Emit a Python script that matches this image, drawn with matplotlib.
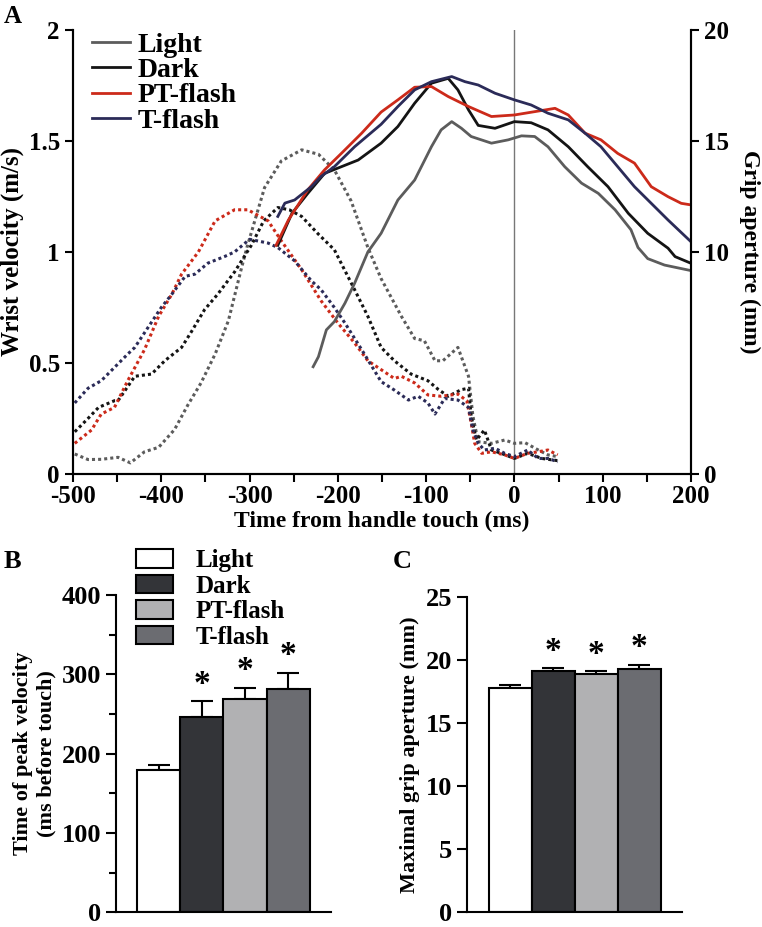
import matplotlib
matplotlib.use("Agg")
import matplotlib.pyplot as plt

plt.rcParams['font.family'] = ['Liberation Serif', 'DejaVu Serif']
plt.rcParams['font.weight'] = 'bold'
plt.rcParams['axes.labelweight'] = 'bold'
plt.rcParams['axes.unicode_minus'] = False

# ---- panel A data: wrist velocity (m/s, dotted) ----
light_v_t = [-498, -483, -468, -449, -435, -419, -403, -385, -370, -355, -339, -324, -309, -303, -283, -264,
             -241, -222, -204, -185, -166, -151, -128, -113, -102, -90, -81, -64, -52, -47, -41, -26, -11, 0,
             12, 27, 38, 49]
light_v = [0.09, 0.065, 0.066, 0.075, 0.05, 0.10, 0.12, 0.2, 0.31, 0.41, 0.54, 0.69, 0.93, 1.02, 1.29, 1.41,
           1.46, 1.44, 1.37, 1.23, 1.02, 0.88, 0.71, 0.61, 0.60, 0.51, 0.51, 0.57, 0.44, 0.26, 0.145, 0.138,
           0.153, 0.138, 0.141, 0.108, 0.086, 0.078]

dark_v_t = [-498, -483, -471, -453, -449, -430, -411, -396, -377, -366, -351, -336, -317, -298, -284, -268,
            -255, -241, -222, -204, -181, -166, -151, -136, -117, -98, -86, -75, -60, -52, -49, -43, -34, -26,
            -15, 0, 15, 31, 49]
dark_v = [0.19, 0.25, 0.30, 0.33, 0.33, 0.44, 0.45, 0.51, 0.57, 0.64, 0.74, 0.81, 0.91, 1.03, 1.14, 1.20,
          1.19, 1.16, 1.08, 1.01, 0.83, 0.71, 0.57, 0.51, 0.45, 0.42, 0.38, 0.35, 0.38, 0.386, 0.26, 0.153,
          0.198, 0.108, 0.093, 0.07, 0.093, 0.07, 0.06]

pt_v_t = [-498, -479, -468, -453, -438, -419, -403, -388, -377, -358, -339, -317, -302, -279, -264, -241,
          -219, -200, -181, -166, -151, -136, -128, -113, -98, -83, -64, -54, -49, -45, -37, -26, -11, 0, 15,
          27, 38, 49]
pt_v = [0.138, 0.198, 0.27, 0.30, 0.42, 0.56, 0.71, 0.81, 0.90, 1.0, 1.14, 1.19, 1.19, 1.14, 1.05, 0.92,
        0.78, 0.68, 0.59, 0.51, 0.47, 0.43, 0.44, 0.41, 0.356, 0.35, 0.36, 0.33, 0.23, 0.138, 0.093, 0.10,
        0.086, 0.07, 0.093, 0.10, 0.108, 0.086]

t_v_t = [-498, -483, -468, -453, -438, -430, -415, -400, -388, -373, -362, -347, -328, -317, -300, -279,
         -268, -249, -230, -219, -204, -192, -173, -151, -136, -120, -109, -98, -90, -79, -64, -52, -47, -41,
         -34, -22, -11, 0, 15, 27, 38, 49]
t_v = [0.32, 0.386, 0.42, 0.48, 0.54, 0.57, 0.66, 0.75, 0.81, 0.89, 0.90, 0.95, 0.98, 1.0, 1.057, 1.04,
       1.02, 0.96, 0.87, 0.83, 0.75, 0.68, 0.56, 0.416, 0.378, 0.333, 0.35, 0.32, 0.27, 0.34, 0.333, 0.30,
       0.198, 0.138, 0.108, 0.116, 0.093, 0.078, 0.108, 0.07, 0.07, 0.055]

# ---- panel A data: grip aperture (mm, solid) ----
light_g_t = [-228, -222, -213, -204, -192, -181, -166, -151, -132, -113, -94, -83, -71, -60, -49, -26, -7, 8,
             23, 38, 57, 76, 95, 114, 132, 140, 151, 170, 200]
light_g = [4.83, 5.28, 6.49, 6.86, 7.69, 8.59, 10.0, 10.84, 12.34, 13.24, 14.74, 15.5, 15.87, 15.57, 15.2,
           14.9, 15.05, 15.23, 15.2, 14.74, 13.84, 13.1, 12.64, 11.9, 11.0, 10.2, 9.7, 9.41, 9.16]

dark_g_t = [-268, -252, -234, -215, -196, -177, -151, -132, -113, -94, -75, -64, -52, -41, -22, 0, 19, 38, 61,
            83, 106, 129, 151, 174, 182, 200]
dark_g = [10.3, 11.74, 12.64, 13.54, 13.84, 14.14, 14.9, 15.65, 16.7, 17.6, 17.82, 17.3, 16.4, 15.7, 15.57,
          15.87, 15.82, 15.5, 14.74, 13.84, 12.94, 11.74, 10.84, 10.17, 9.79, 9.49]

pt_g_t = [-270, -256, -234, -215, -196, -173, -151, -132, -113, -94, -75, -52, -26, 0, 23, 46, 61, 80, 98,
          117, 136, 155, 174, 189, 200]
pt_g = [10.3, 11.44, 12.8, 13.7, 14.44, 15.35, 16.3, 16.85, 17.42, 17.45, 17.0, 16.55, 16.1, 16.17, 16.32,
        16.47, 16.17, 15.35, 15.05, 14.44, 14.0, 12.94, 12.49, 12.19, 12.12]

t_g_t = [-268, -260, -249, -230, -219, -204, -181, -151, -132, -113, -94, -71, -56, -41, -22, 0, 19, 38, 61,
         80, 98, 117, 136, 155, 174, 200]
t_g = [11.6, 12.2, 12.34, 12.94, 13.4, 13.84, 14.74, 15.75, 16.55, 17.3, 17.67, 17.9, 17.67, 17.52, 17.15,
       16.85, 16.62, 16.25, 15.95, 15.35, 14.74, 13.84, 12.94, 12.19, 11.44, 10.46]

# ---- panels B and C data ----
conditions = ['Light', 'Dark', 'PT-flash', 'T-flash']
peak_time = [180, 246, 269, 281]
peak_time_err = [6, 20, 14, 21]
max_grip = [17.75, 19.1, 18.9, 19.25]
max_grip_err = [0.3, 0.25, 0.2, 0.35]
significant = [False, True, True, True]

line_colors = ['#5c5c5c', '#141414', '#cc2a1a', '#2b2b58']
bar_colors = ['#ffffff', '#333438', '#b1b1b3', '#6b6c71']

fig = plt.figure(figsize=(7.62, 9.27), dpi=100)

# ================= panel A =================
ax = fig.add_axes([0.0958, 0.4887, 0.811, 0.479])
ax2 = ax.twinx()

vel = [(light_v_t, light_v), (dark_v_t, dark_v), (pt_v_t, pt_v), (t_v_t, t_v)]
grip = [(light_g_t, light_g), (dark_g_t, dark_g), (pt_g_t, pt_g), (t_g_t, t_g)]

ax.axvline(0, color='#777777', lw=1.0, zorder=0)
for (tt, vv), c in zip(vel, line_colors):
    ax.plot(tt, vv, color=c, lw=2.2, linestyle=(0, (1, 1)))
for (tt, gg), c, lab in zip(grip, line_colors, conditions):
    ax2.plot(tt, gg, color=c, lw=2.0, label=lab)

ax.set_xlim(-500, 200)
ax.set_ylim(0, 2)
ax2.set_ylim(0, 20)
ax.set_xticks(range(-500, 201, 100))
ax.set_xticks(range(-450, 200, 100), minor=True)
ax.set_yticks([0, 0.5, 1, 1.5, 2])
ax.set_yticklabels(['0', '0.5', '1', '1.5', '2'])
ax2.set_yticks([0, 10, 15, 20])
for a in (ax, ax2):
    a.spines['top'].set_visible(False)
    for s in a.spines.values():
        s.set_linewidth(1.5)
    a.tick_params(which='both', direction='out', length=6, width=1.5, labelsize=18)
ax.tick_params(axis='x', pad=2)
ax.set_xlabel('Time from handle touch (ms)', fontsize=17, labelpad=2)
ax.set_ylabel('Wrist velocity (m/s)', fontsize=18, labelpad=3)
ax2.set_ylabel('Grip aperture (mm)', fontsize=17, rotation=270, labelpad=22)

ax2.legend(loc='upper left', bbox_to_anchor=(0.03, 0.995), frameon=False, fontsize=20,
           handlelength=1.4, handletextpad=0.25, labelspacing=0.0, borderpad=0, borderaxespad=0)

fig.text(0.005, 0.995, 'A', fontsize=18, va='top', ha='left')


# ================= panels B, C =================
def bar_panel(rect, vals, errs, ymax, yticks, minor, ylabel, lab_fs):
    bx = fig.add_axes(rect)
    pos = [1, 2, 3, 4]
    bx.bar(pos, vals, width=1.0, color=bar_colors, edgecolor='black', linewidth=1.5, zorder=2)
    bx.errorbar(pos, vals, yerr=[[0] * 4, errs], fmt='none', ecolor='black', elinewidth=1.5,
                capsize=8, capthick=1.5, zorder=1)
    for p, v, e, s in zip(pos, vals, errs, significant):
        if s:
            bx.text(p, v + e + ymax * 0.005, '*', ha='center', va='bottom', fontsize=24)
    bx.set_xlim(0, 5)
    bx.set_ylim(0, ymax)
    bx.set_yticks(yticks)
    if minor:
        bx.set_yticks(minor, minor=True)
    bx.set_xticks([])
    bx.spines['top'].set_visible(False)
    bx.spines['right'].set_visible(False)
    for s in ('left', 'bottom'):
        bx.spines[s].set_linewidth(1.5)
    bx.tick_params(axis='y', which='major', direction='out', length=7, width=1.5, labelsize=19)
    bx.tick_params(axis='y', which='minor', direction='out', length=5, width=1.5)
    bx.set_ylabel(ylabel, fontsize=lab_fs, linespacing=1.2)
    return bx


bx = bar_panel([0.1522, 0.016, 0.2822, 0.342], peak_time, peak_time_err, 400,
               [0, 100, 200, 300, 400], [50, 150, 250, 350],
               'Time of peak velocity\n(ms before touch)', 16)
bx.legend(bx.patches, conditions, loc='upper left', bbox_to_anchor=(0.095, 1.145), frameon=False,
          fontsize=18, handlelength=1.45, handleheight=0.75, handletextpad=0.9, labelspacing=0.1,
          borderpad=0, borderaxespad=0)

cx = bar_panel([0.6129, 0.016, 0.2822, 0.340], max_grip, max_grip_err, 25,
               [0, 5, 10, 15, 20, 25], None, 'Maximal grip aperture (mm)', 16)

fig.text(0.005, 0.394, 'B', fontsize=19, va='center', ha='left')
fig.text(0.516, 0.394, 'C', fontsize=19, va='center', ha='left')

fig.savefig('out.png', dpi=100)
